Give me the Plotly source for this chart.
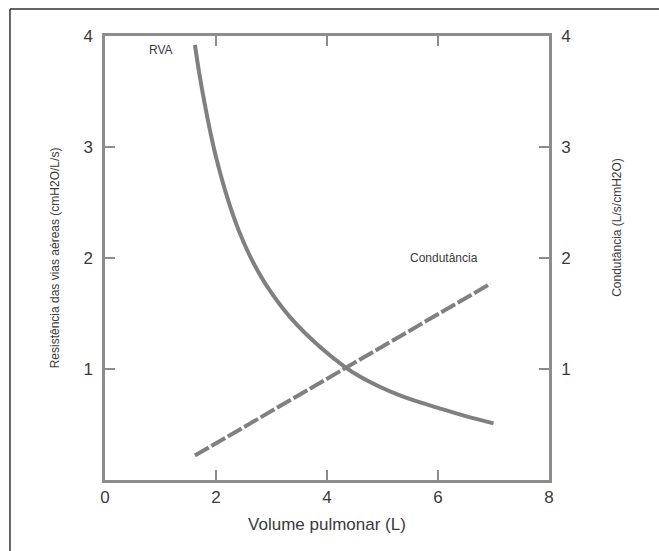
import plotly.graph_objects as go

# RVA (resistance) curve
rva_x = [1.62, 1.70, 1.80, 1.90, 2.00, 2.20, 2.40, 2.61, 2.90, 3.33, 3.87, 4.32, 4.60, 4.95, 5.20, 5.50, 6.00, 6.50, 7.00]
rva_y = [3.92, 3.66, 3.38, 3.13, 2.91, 2.55, 2.26, 2.02, 1.76, 1.47, 1.20, 1.02, 0.93, 0.84, 0.785, 0.728, 0.65, 0.575, 0.51]

# Conductance line
cond_x = [1.62, 4.32, 6.95]
cond_y = [0.22, 1.00, 1.77]

x_ticks = [0, 2, 4, 6, 8]
y_ticks = [1, 2, 3, 4]

line_col = "#808080"
axis_col = "#8c8c8c"
text_col = "#3a3a3a"
FONT = "Liberation Sans, Arial, sans-serif"

fig = go.Figure()
fig.add_trace(go.Scatter(x=rva_x, y=rva_y, mode="lines",
                         line=dict(color=line_col, width=4, shape="spline", smoothing=1.0),
                         showlegend=False, hoverinfo="skip"))
fig.add_trace(go.Scatter(x=cond_x, y=cond_y, mode="lines", yaxis="y2",
                         line=dict(color=line_col, width=4, dash="16px,3px"),
                         showlegend=False, hoverinfo="skip"))

fig.update_layout(
    width=659, height=551,
    margin=dict(l=105, r=110, t=36, b=71),
    paper_bgcolor="white", plot_bgcolor="white",
    font=dict(family=FONT, color=text_col),
    xaxis=dict(range=[0, 8], tickvals=x_ticks, ticks="inside", ticklen=10, tickwidth=2,
               tickcolor=axis_col, showline=True, linecolor=axis_col, linewidth=2.5,
               mirror="ticks", showgrid=False, zeroline=False,
               tickfont=dict(size=17, color=text_col),
               title=dict(text="Volume pulmonar (L)", font=dict(size=17, color=text_col), standoff=12)),
    yaxis=dict(range=[0, 4], tickvals=y_ticks, ticks="inside", ticklen=10, tickwidth=2,
               tickcolor=axis_col, showline=True, linecolor=axis_col, linewidth=2.5,
               showgrid=False, zeroline=False, ticklabelstandoff=6,
               tickfont=dict(size=17, color=text_col),
               title=dict(text="Resistência das vias aéreas (cmH2O/L/s)", font=dict(size=12, color=text_col), standoff=22)),
    yaxis2=dict(range=[0, 4], tickvals=y_ticks, ticks="inside", ticklen=10, tickwidth=2,
                tickcolor=axis_col, showline=True, linecolor=axis_col, linewidth=2.5,
                overlaying="y", side="right", showgrid=False, zeroline=False, ticklabelstandoff=6,
                tickfont=dict(size=17, color=text_col)),
    annotations=[
        dict(text="RVA", x=1.0, y=3.87, xref="x", yref="y", showarrow=False,
             font=dict(size=12, color=text_col)),
        dict(text="Condutância", x=6.1, y=2.0, xref="x", yref="y", showarrow=False,
             font=dict(size=12, color=text_col)),
        dict(text="Condutância (L/s/cmH2O)", x=1.153, y=0.57, xref="paper", yref="paper",
             xanchor="center", yanchor="middle",
             showarrow=False, textangle=-90, font=dict(size=12, color=text_col)),
    ],
    shapes=[
        dict(type="line", xref="paper", yref="paper", x0=-0.214, x1=1.4, y0=1.061, y1=1.061,
             line=dict(color="#333333", width=1.5)),
        dict(type="line", xref="paper", yref="paper", x0=-0.214, x1=-0.214, y0=1.061, y1=-0.3,
             line=dict(color="#333333", width=1.5)),
    ],
)

fig.write_html("out.html")
